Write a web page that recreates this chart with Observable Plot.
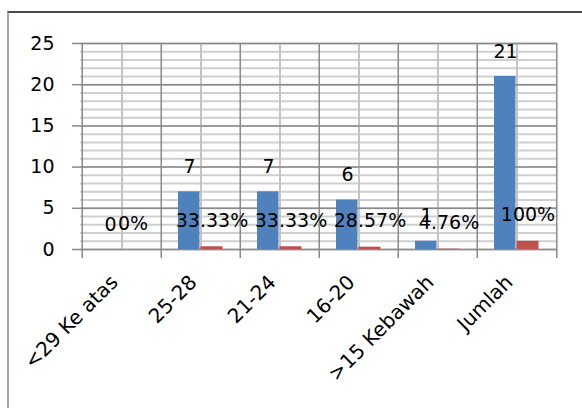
<!DOCTYPE html>
<html>
<head>
<meta charset="utf-8">
<script src="https://cdn.jsdelivr.net/npm/d3@7"></script>
<script src="https://cdn.jsdelivr.net/npm/@observablehq/plot@0.6"></script>
<style>
  html, body { margin: 0; padding: 0; background: #fff; width: 582px; height: 408px; overflow: hidden; }
  #frame { position: absolute; left: 7px; top: 11px; right: 0; bottom: 0; border-top: 2px solid #4a4a4a; border-left: 2px solid #a6a6a6; }
  #chart { position: absolute; left: 0; top: 0; }
</style>
</head>
<body>
<div id="frame"></div>
<div id="chart"></div>
<script>
const categories = ["<29 Ke atas", "25-28", "21-24", "16-20", ">15 Kebawah", "Jumlah"];
const counts = [0, 7, 7, 6, 1, 21];
const percents = [0, 0.3333, 0.3333, 0.2857, 0.0476, 1];
const percentLabels = ["0%", "33.33%", "33.33%", "28.57%", "4.76%", "100%"];
const yTicks = [0, 5, 10, 15, 20, 25];
const yMinor = d3.range(0, 26);

const data = categories.map((c, i) => ({cat: c, count: counts[i], pct: percents[i], pctLabel: percentLabels[i]}));

const width = 582, height = 408;
const mLeft = 80, mRight = 25, mTop = 43, mBottom = 159;
const bw = (width - mLeft - mRight) / categories.length;

const font = "DejaVu Sans, sans-serif";

const chart = Plot.plot({
  width, height,
  marginLeft: mLeft, marginRight: mRight, marginTop: mTop, marginBottom: mBottom,
  style: {fontFamily: font, background: "transparent", color: "#000", overflow: "visible"},
  x: {domain: categories, padding: 0, axis: null},
  y: {domain: [0, 25], axis: null},
  marks: [
    // minor horizontal gridlines
    Plot.ruleY(yMinor, {stroke: "#cfcfcf", strokeWidth: 2}),
    // mid-category vertical gridlines
    Plot.ruleX(categories, {x: d => d, stroke: "#c4c4c4", strokeWidth: 2}),
    // major horizontal gridlines
    Plot.ruleY(yTicks, {stroke: "#8a8a8a", strokeWidth: 1.5}),
    // category boundary gridlines + tick marks
    Plot.ruleX(categories, {x: d => d, dx: -bw / 2, stroke: "#8a8a8a", strokeWidth: 1.5, insetBottom: -9}),
    Plot.ruleX(categories.slice(-1), {x: d => d, dx: bw / 2, stroke: "#8a8a8a", strokeWidth: 1.5, insetBottom: -9}),
    // y axis ticks + labels
    Plot.axisY(yTicks, {tickSize: 8, tickPadding: 18, stroke: "#8a8a8a", strokeWidth: 1.5, fill: "#000", fontSize: 19, fontFamily: font}),
    // bars
    Plot.barY(data, {x: "cat", y: "count", fill: "#4F81BD", insetLeft: 17, insetRight: 40.5}),
    Plot.barY(data, {x: "cat", y: "pct", fill: "#C0504D", insetLeft: 39.5, insetRight: 17.5}),
    // value labels
    Plot.text(data, {x: "cat", y: "count", text: d => String(d.count), dx: -11.5, dy: -25, fontSize: 19, fill: "#000"}),
    Plot.text(data, {x: "cat", y: "pct", text: "pctLabel", dx: 11, dy: -26, fontSize: 19, fill: "#000"}),
    // x axis labels
    Plot.text(categories, {x: d => d, frameAnchor: "bottom", rotate: -45, textAnchor: "end", dx: -3, dy: 34, fontSize: 20, fill: "#000"})
  ]
});

document.getElementById("chart").appendChild(chart);
</script>
</body>
</html>
